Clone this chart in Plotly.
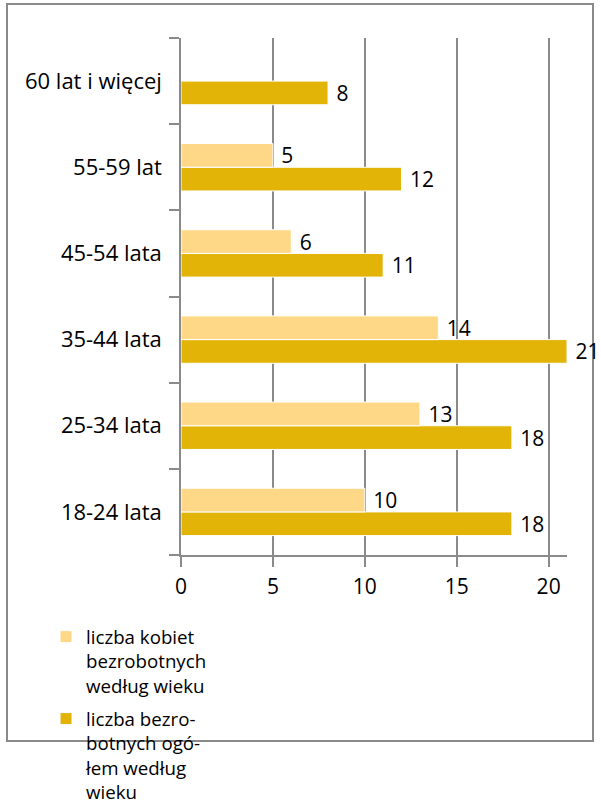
import plotly.graph_objects as go

categories = ["18-24 lata", "25-34 lata", "35-44 lata", "45-54 lata", "55-59 lat", "60 lat i więcej"]
women = [10, 13, 14, 6, 5, None]
total = [18, 18, 21, 11, 12, 8]
x_ticks = [0, 5, 10, 15, 20]
name_women = "liczba kobiet<br>bezrobotnych<br>według wieku"
name_total = "liczba bezro-<br>botnych ogó-<br>łem według<br>wieku"

FONT = "Open Sans, sans-serif"
GRAY = "#8a8a8a"
NB = "\u00a0"

fig = go.Figure()
fig.add_trace(go.Bar(
    y=categories, x=total, orientation="h", name=name_total,
    marker=dict(color="#E2B408", line=dict(color="white", width=1)),
    text=[NB + str(v) for v in total], textposition="outside", cliponaxis=False,
    constraintext="none", textfont=dict(size=21, color="black", family=FONT),
    legendrank=2, legendgroup="total",
))
fig.add_trace(go.Bar(
    y=categories, x=women, orientation="h", name=name_women,
    marker=dict(color="#FED886", line=dict(color="white", width=1)),
    text=[("" if v is None else NB + str(v)) for v in women], textposition="outside", cliponaxis=False,
    constraintext="none", textfont=dict(size=21, color="black", family=FONT),
    legendrank=1, legendgroup="women",
))

L, R, T, B = 181, 34, 38, 250
W, H = 601, 805
pw, ph = W - L - R, H - T - B

def px(x):
    return (x - L) / pw

def py(y):
    return (H - B - y) / ph

fig.update_layout(
    width=W, height=H, barmode="group", bargap=0.45, bargroupgap=0,
    margin=dict(l=L, r=R, t=T, b=B, autoexpand=False),
    paper_bgcolor="white", plot_bgcolor="white",
    font=dict(family=FONT, size=21, color="black"),
    xaxis=dict(range=[0, 21], tickvals=x_ticks, showgrid=True, gridcolor=GRAY, gridwidth=1.5,
               showline=True, linecolor=GRAY, linewidth=1.5, ticks="outside", ticklen=10,
               tickcolor=GRAY, tickwidth=1.5, zeroline=False, tickfont=dict(size=21),
               ticklabelstandoff=2, fixedrange=True),
    yaxis=dict(type="category", showline=True, linecolor=GRAY, linewidth=1.5, ticks="outside",
               tickson="boundaries", ticklen=10, tickcolor=GRAY, tickwidth=1.5, showgrid=False,
               tickfont=dict(size=22), ticklabelstandoff=13, fixedrange=True),
    legend=dict(x=px(46), y=py(618), xanchor="left", yanchor="top", valign="top",
                font=dict(size=18.7, family=FONT), bgcolor="rgba(0,0,0,0)",
                tracegroupgap=6),
    shapes=[dict(type="rect", xref="paper", yref="paper", x0=px(7), x1=px(593), y0=py(741), y1=py(4),
                 line=dict(color=GRAY, width=2), layer="below")],
)

fig.write_html("out.html", config={"displayModeBar": False},
               post_script="document.body.style.margin='0';")
